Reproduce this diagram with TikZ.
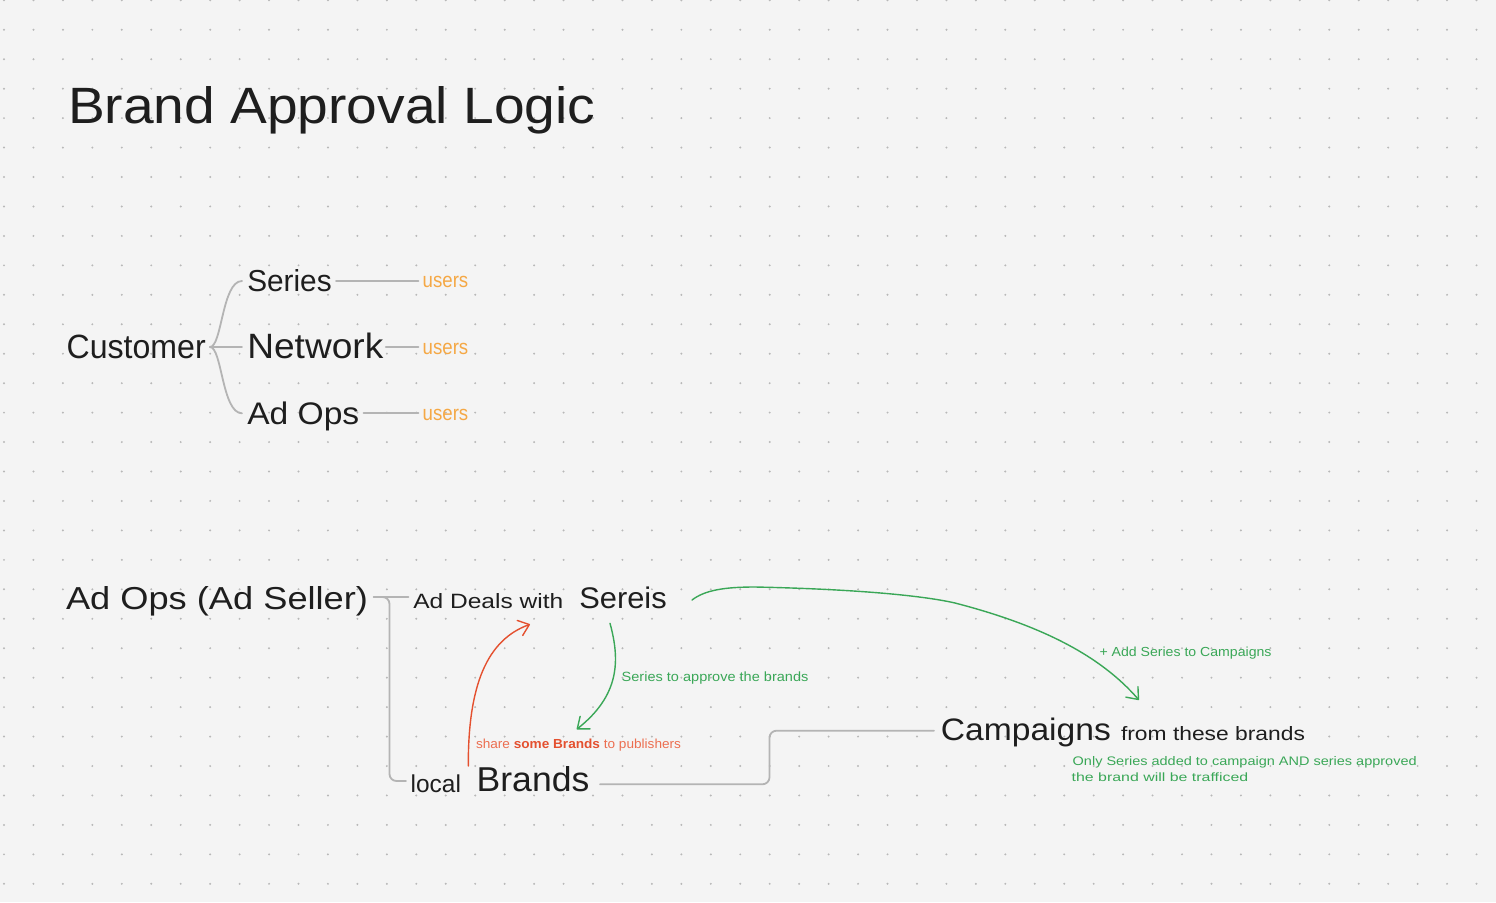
\documentclass[tikz,border=0pt]{standalone}
\usepackage{fontspec}
\setmainfont{Liberation Sans}
\usepackage{graphicx}
\usetikzlibrary{arrows.meta,calc}
\definecolor{bgc}{HTML}{F4F4F4}
\definecolor{dotc}{HTML}{B8B8B8}
\definecolor{ink}{HTML}{1E1E1E}
\definecolor{linec}{HTML}{B4B4B4}
\definecolor{orangec}{HTML}{F5A845}
\definecolor{greenc}{HTML}{3AA757}
\definecolor{redc}{HTML}{E4502F}
\definecolor{redlight}{HTML}{EC6E50}
\newcommand{\hw}[3]{\resizebox{#1pt}{#2pt}{#3}}
\tikzset{
  txt/.style={inner sep=0pt, outer sep=0pt, anchor=base west, text=ink},
  branch/.style={draw=linec, line width=1.8pt, line cap=round},
  elbow/.style={draw=linec, line width=1.8pt, rounded corners=7pt, line cap=round},
  greenarrow/.style={draw=greenc, line width=1.4pt, line cap=round, -{Straight Barb[length=10pt,width=16pt,round]}},
  redarrow/.style={draw=redc, line width=1.4pt, line cap=round, -{Straight Barb[length=10pt,width=16pt,round]}},
}
\begin{document}
\begin{tikzpicture}[x=1pt,y=-1pt]
\fill[bgc] (0,0) rectangle (1496,902);
\useasboundingbox (0,0) rectangle (1496,902);
\foreach \i in {0,...,50} {
  \foreach \j in {0,...,30} {
    \fill[dotc] ({4+\i*29.45},{0.3+\j*29.45}) circle (1.1pt);
  }
}
% title
\node[txt] (title) at (68,123) {\hw{527}{37}{Brand Approval Logic}};
% top tree
\node[txt] (customer) at (66.7,358.3) {\hw{139}{23.5}{Customer}};
\node[txt] (series) at (247.3,291.7) {\hw{84.4}{22}{Series}};
\node[txt] (network) at (247.3,358.3) {\hw{136}{25.5}{Network}};
\node[txt] (adops) at (247.3,424.3) {\hw{112}{22.6}{Ad Ops}};
\node[txt,text=orangec] (users1) at (422.7,287.3) {\hw{45.6}{11.3}{users}};
\node[txt,text=orangec] (users2) at (422.7,354) {\hw{45.6}{11.3}{users}};
\node[txt,text=orangec] (users3) at (422.7,420.7) {\hw{45.6}{11.3}{users}};
\draw[branch] ([shift={(4.3,-11.3)}]customer.base east) .. controls +(12,0) and +(-20,0) .. ([shift={(-5.3,-10.7)}]series.base west);
\draw[branch] ([shift={(4.3,-11.3)}]customer.base east) -- ([shift={(-5.3,-11.3)}]network.base west);
\draw[branch] ([shift={(4.3,-11.3)}]customer.base east) .. controls +(12,0) and +(-20,0) .. ([shift={(-5.3,-11)}]adops.base west);
\draw[branch] ([shift={(4.3,-10.7)}]series.base east) -- ([shift={(-4.2,-6.3)}]users1.base west);
\draw[branch] ([shift={(2.5,-11.3)}]network.base east) -- ([shift={(-4.2,-7)}]users2.base west);
\draw[branch] ([shift={(4.2,-11)}]adops.base east) -- ([shift={(-4.2,-7.4)}]users3.base west);
% bottom
\node[txt] (seller) at (66,609.3) {\hw{302}{23}{Ad Ops (Ad Seller)}};
\node[txt] (deals) at (413.3,608.3) {\hw{150}{15}{Ad Deals with}};
\node[txt] (sereis) at (579.3,608.3) {\hw{87.4}{21.6}{Sereis}};
\node[txt] (local) at (410.7,792.7) {\hw{50.3}{17.7}{local}};
\node[txt] (brands) at (476.7,791.7) {\hw{112.6}{25}{Brands}};
\node[txt] (sharelbl) at (476,748.3) {\hw{205}{9.5}{{\color{redlight}share\ }{\color{redc}\bfseries some Brands}{\color{redlight}\ to publishers}}};
\node[txt,text=greenc] (approvelbl) at (621.7,681.7) {\hw{186.7}{9.7}{Series to approve the brands}};
\node[txt,text=greenc] (addlbl) at (1099.5,656) {\hw{172}{9.5}{+ Add Series to Campaigns}};
\node[txt] (campaigns) at (940.9,740.7) {\hw{170}{22.5}{Campaigns}};
\node[txt] (fromlbl) at (1121,740.7) {\hw{184}{14}{from these brands}};
\node[txt,text=greenc] (only1) at (1072.7,765.7) {\hw{344}{9}{Only Series added to campaign AND series approved}};
\node[txt,text=greenc] (only2) at (1071.7,781) {\hw{176.6}{8.7}{the brand will be trafficed}};
\coordinate (vx) at (389.5,690);
\coordinate (vx2) at (769.5,757);
\draw[branch] ([shift={(5.7,-12.3)}]seller.base east) -- ([shift={(-4.8,-11.3)}]deals.base west);
\draw[elbow] ([shift={(5.7,-12.3)}]seller.base east) -| (vx) |- ([shift={(-4.7,-11.7)}]local.base west);
\draw[elbow] ([shift={(10.7,-7.4)}]brands.base east) -| (vx2) |- ([shift={(-7,-10)}]campaigns.base west);
\draw[redarrow] ([shift={(-8.4,-25.7)}]brands.base west) .. controls (468,685) and (487,640) .. ([shift={(116.7,16)}]deals.base west);
\draw[greenarrow] ([shift={(30.7,15)}]sereis.base west) .. controls (620,660) and (620,695) .. ([shift={(100,-62.4)}]brands.base west);
\draw[greenarrow] ([shift={(25.3,-8.3)}]sereis.base east) .. controls (705,590) and (725,587) .. (755,587) .. controls (850,589) and (920,595) .. (955,603) .. controls (1040,625) and (1100,655) .. ([shift={(198,-40.7)}]campaigns.base west);
\end{tikzpicture}
\end{document}
